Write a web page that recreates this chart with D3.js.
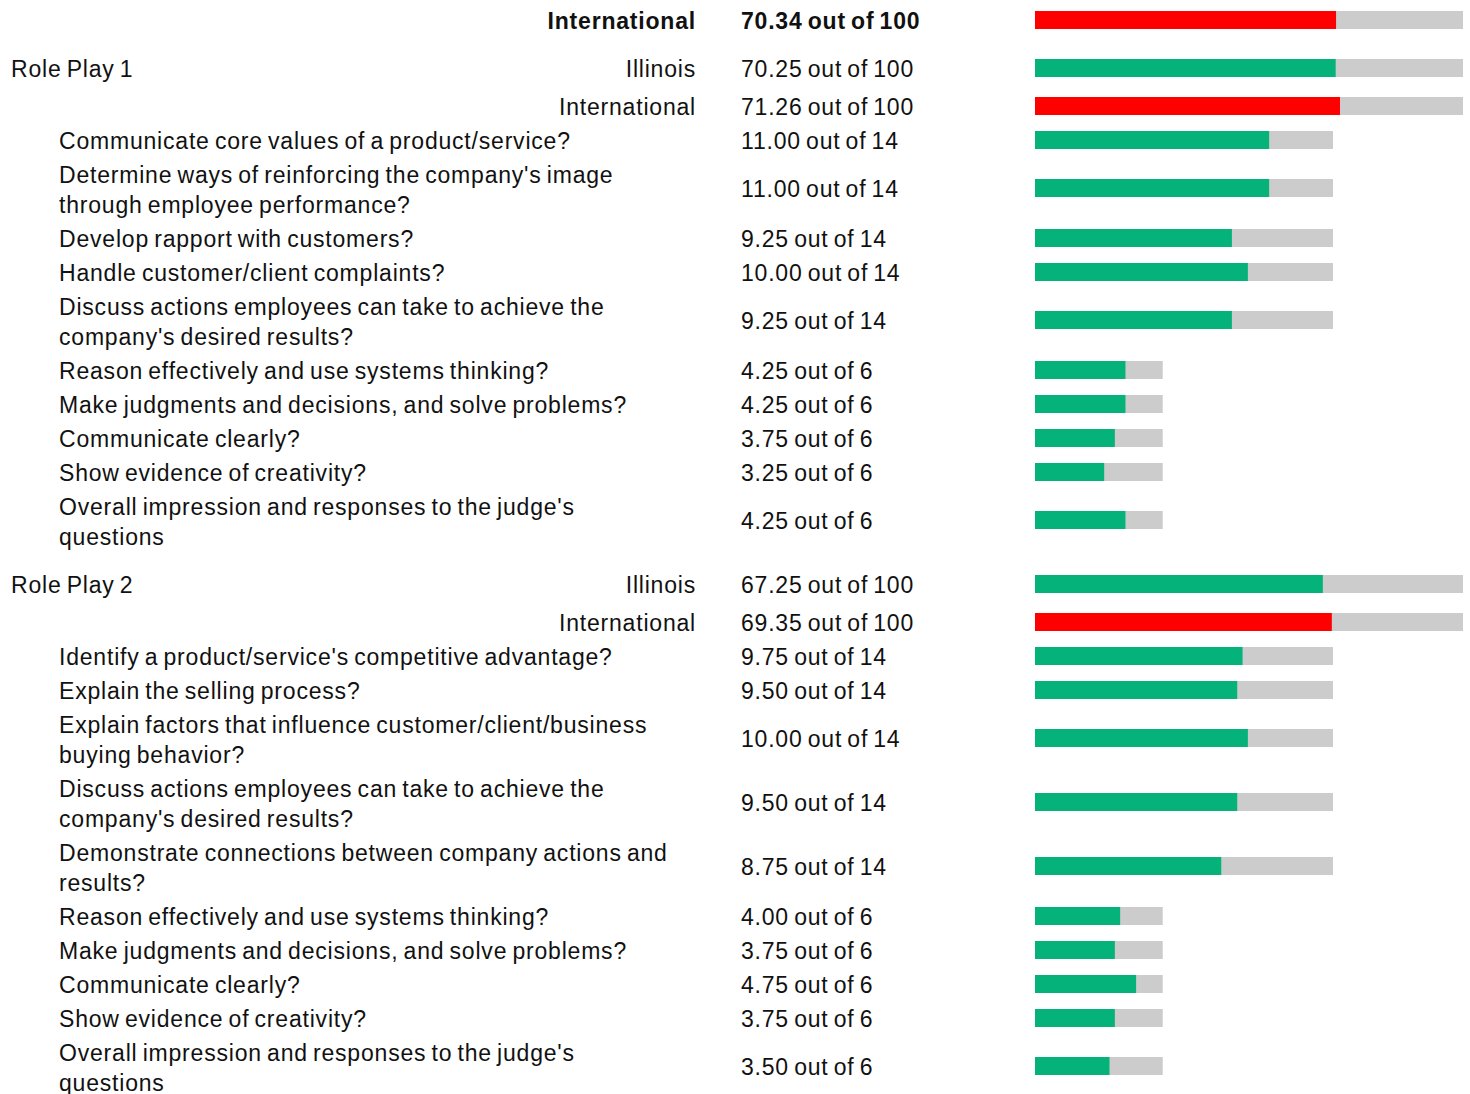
<!DOCTYPE html>
<html>
<head>
<meta charset="utf-8">
<script src="https://cdn.jsdelivr.net/npm/d3@7"></script>
<style>
  body { margin: 0; background: #fff; }
  text { font-family: "Liberation Sans", Arial, sans-serif; font-size: 23px; fill: #111; letter-spacing: 0.8px; word-spacing: -2px; }
</style>
</head>
<body>
<svg id="chart" width="1470" height="1094"></svg>
<script>

// overall result
const headerLabel = "International";
const headerScore = 70.34;
const headerMax = 100;

// role plays
const rolePlays = ["Role Play 1", "Role Play 2"];
const illinoisScores = [70.25, 67.25];
const internationalScores = [71.26, 69.35];

// performance indicators, line breaks as in the report
const rp1Items = [
    "Communicate core values of a product/service?",
    "Determine ways of reinforcing the company's image\nthrough employee performance?",
    "Develop rapport with customers?",
    "Handle customer/client complaints?",
    "Discuss actions employees can take to achieve the\ncompany's desired results?",
    "Reason effectively and use systems thinking?",
    "Make judgments and decisions, and solve problems?",
    "Communicate clearly?",
    "Show evidence of creativity?",
    "Overall impression and responses to the judge's\nquestions"
];
const rp1Scores = [11.00, 11.00, 9.25, 10.00, 9.25, 4.25, 4.25, 3.75, 3.25, 4.25];
const rp1Max = [14, 14, 14, 14, 14, 6, 6, 6, 6, 6];

const rp2Items = [
    "Identify a product/service's competitive advantage?",
    "Explain the selling process?",
    "Explain factors that influence customer/client/business\nbuying behavior?",
    "Discuss actions employees can take to achieve the\ncompany's desired results?",
    "Demonstrate connections between company actions and\nresults?",
    "Reason effectively and use systems thinking?",
    "Make judgments and decisions, and solve problems?",
    "Communicate clearly?",
    "Show evidence of creativity?",
    "Overall impression and responses to the judge's\nquestions"
];
const rp2Scores = [9.75, 9.50, 10.00, 9.50, 8.75, 4.00, 3.75, 4.75, 3.75, 3.50];
const rp2Max = [14, 14, 14, 14, 14, 6, 6, 6, 6, 6];

const itemScores = [rp1Scores, rp2Scores];
const itemMax = [rp1Max, rp2Max];
const itemLabels = [rp1Items, rp2Items];

const green = "#05b279", red = "#ff0000", track = "#cccccc";

const svg = d3.select("#chart");

// totals out of 100 use a longer track than the item scores
const xTotal = d3.scaleLinear().domain([0, 100]).range([1035, 1463]);
const xItem = d3.scaleLinear().domain([0, 14]).range([1035, 1333]);

const fmt = d3.format(".2f");
const labelRight = 696, valueX = 741, itemX = 59, groupX = 11;
const barH = 18;

// build rows with their vertical position
var rows = [];
rows.push({ kind: "header", label: headerLabel, value: headerScore, max: headerMax, color: red, y: 21, bar: 20 });

var rowTop = 38;
rolePlays.forEach(function(rp, i) {
    rows.push({ kind: "total", group: rp, label: "Illinois", value: illinoisScores[i], max: 100, color: green, y: rowTop + 31, bar: rowTop + 30 });
    rows.push({ kind: "total", label: "International", value: internationalScores[i], max: 100, color: red, y: rowTop + 69, bar: rowTop + 68 });
    rowTop += 86;
    itemLabels[i].forEach(function(lab, j) {
        const lines = lab.split("\n");
        if (lines.length > 1) {
            rows.push({ kind: "item", lines: lines, value: itemScores[i][j], max: itemMax[i][j], color: green, y: rowTop + 31, lineY: [rowTop + 17, rowTop + 47], bar: rowTop + 30 });
            rowTop += 64;
        } else {
            rows.push({ kind: "item", lines: lines, value: itemScores[i][j], max: itemMax[i][j], color: green, y: rowTop + 17, lineY: [rowTop + 17], bar: rowTop + 16 });
            rowTop += 34;
        }
    });
});

const scaleFor = d => d.max == 100 ? xTotal : xItem;

const g = svg.selectAll("g.row")
    .data(rows)
    .enter()
    .append("g")
    .attr("class", "row");

// grey track
g.append("rect")
    .attr("x", d => scaleFor(d)(0))
    .attr("y", d => d.bar - barH / 2)
    .attr("width", d => scaleFor(d)(d.max) - scaleFor(d)(0))
    .attr("height", barH)
    .attr("fill", track);

// score bar
g.append("rect")
    .attr("x", d => scaleFor(d)(0))
    .attr("y", d => d.bar - barH / 2)
    .attr("width", d => scaleFor(d)(d.value) - scaleFor(d)(0))
    .attr("height", barH)
    .attr("fill", d => d.color);

// score text
g.append("text")
    .attr("x", valueX)
    .attr("y", d => d.y)
    .attr("dy", "0.36em")
    .style("font-weight", d => d.kind == "header" ? "bold" : null)
    .text(d => fmt(d.value) + " out of " + d.max);

// right aligned labels for totals
g.filter(d => d.kind != "item")
    .append("text")
    .attr("x", labelRight)
    .attr("y", d => d.y)
    .attr("dy", "0.36em")
    .attr("text-anchor", "end")
    .style("font-weight", d => d.kind == "header" ? "bold" : null)
    .text(d => d.label);

g.filter(d => d.group)
    .append("text")
    .attr("x", groupX)
    .attr("y", d => d.y)
    .attr("dy", "0.36em")
    .text(d => d.group);

// item labels, one tspan per line
g.filter(d => d.kind == "item")
    .append("text")
    .selectAll("tspan")
    .data(d => d.lines.map((l, k) => ({ text: l, y: d.lineY[k] })))
    .enter()
    .append("tspan")
    .attr("x", itemX)
    .attr("y", d => d.y)
    .attr("dy", "0.36em")
    .text(d => d.text);

</script>
</body>
</html>
